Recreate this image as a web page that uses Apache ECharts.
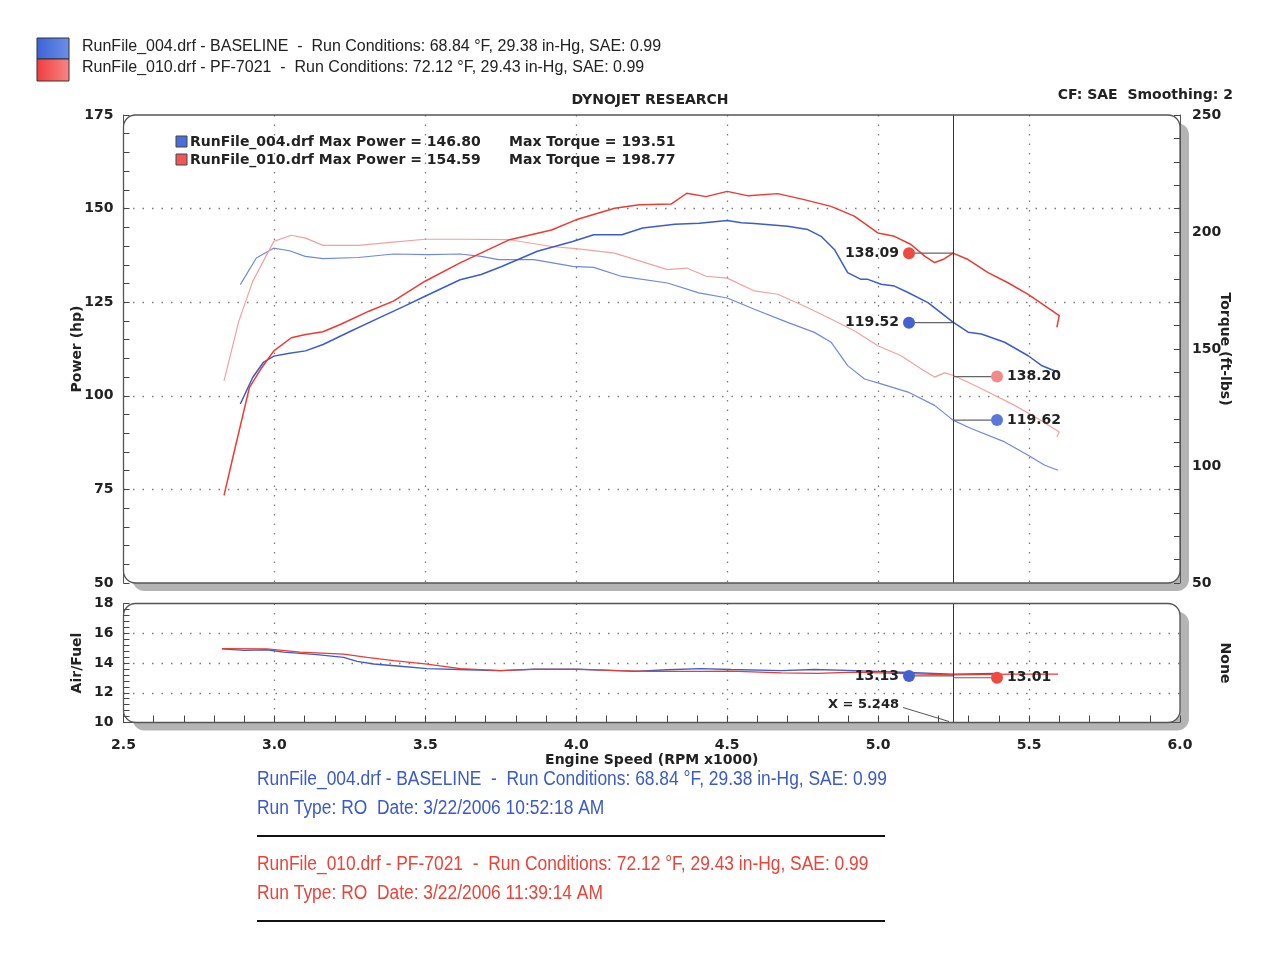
<!DOCTYPE html>
<html>
<head>
<meta charset="utf-8">
<script src="https://cdn.jsdelivr.net/npm/echarts@6/dist/echarts.min.js"></script>
<style>
html,body{margin:0;padding:0;background:#fff;}
#chart{width:1280px;height:959px;}
</style>
</head>
<body>
<div id="chart"></div>
<script>
// ---------------- DATA ----------------
const xTicks = [2.5, 3.0, 3.5, 4.0, 4.5, 5.0, 5.5, 6.0];
const cursorRpm = 5.248;

// [rpm x1000, hp]
const baselinePower = [
 [2.887,97.8],[2.928,104.9],[2.963,108.9],[2.998,110.6],[3.045,111.3],[3.103,112.0],[3.161,113.7],
 [3.254,117.3],[3.336,120.4],[3.429,123.9],[3.499,126.6],[3.615,131.0],[3.685,132.4],[3.755,134.6],
 [3.871,138.6],[3.988,141.2],[4.058,143.0],[4.151,143.0],[4.220,144.8],[4.326,145.8],[4.407,146.1],
 [4.500,146.8],[4.547,146.2],[4.590,146.0],[4.700,145.3],[4.767,144.4],[4.811,142.6],[4.855,139.1],
 [4.899,132.9],[4.943,131.1],[4.966,131.1],[5.010,129.8],[5.054,129.3],[5.099,127.6],[5.165,124.9],
 [5.248,119.7],[5.298,117.0],[5.342,116.5],[5.419,114.3],[5.497,110.7],[5.541,108.1],[5.596,106.3]
];
const pf7021Power = [
 [2.833,73.4],[2.870,86.2],[2.917,102.2],[2.958,107.5],[2.998,112.0],[3.056,115.5],[3.103,116.4],
 [3.161,117.1],[3.220,119.1],[3.313,122.6],[3.394,125.3],[3.499,130.6],[3.615,135.5],[3.779,141.7],
 [3.918,144.3],[3.999,147.0],[4.127,150.1],[4.209,151.0],[4.314,151.2],[4.366,154.1],[4.430,153.2],
 [4.500,154.6],[4.570,153.4],[4.667,154.0],[4.755,152.4],[4.844,150.6],[4.921,148.0],[4.999,143.5],
 [5.054,142.6],[5.109,140.4],[5.154,137.3],[5.187,135.6],[5.215,136.4],[5.248,138.1],[5.298,136.4],
 [5.364,132.9],[5.430,130.2],[5.497,127.1],[5.600,121.4],[5.592,118.3]
];
// [rpm x1000, ft-lbs]
const baselineTorque = [
 [2.887,177.5],[2.940,188.9],[2.997,193.1],[3.050,192.0],[3.102,189.6],[3.161,188.6],[3.278,189.1],
 [3.394,190.6],[3.510,190.3],[3.615,190.6],[3.685,189.6],[3.743,188.2],[3.860,188.2],[3.988,185.3],
 [4.058,184.9],[4.151,181.0],[4.302,178.2],[4.406,174.0],[4.500,171.8],[4.590,167.0],[4.700,161.4],
 [4.789,157.1],[4.844,152.9],[4.899,142.9],[4.955,137.2],[5.010,135.1],[5.099,131.6],[5.187,125.9],
 [5.248,119.6],[5.308,116.0],[5.419,110.3],[5.497,104.6],[5.552,100.3],[5.596,98.2]
];
const pf7021Torque = [
 [2.833,136.4],[2.882,161.9],[2.928,178.9],[2.998,196.0],[3.056,198.6],[3.103,197.4],[3.161,194.3],
 [3.278,194.3],[3.394,195.7],[3.499,196.9],[3.627,196.9],[3.779,196.7],[3.918,193.8],[3.999,192.9],
 [4.127,191.0],[4.302,183.9],[4.366,184.6],[4.430,181.1],[4.500,180.3],[4.590,174.8],[4.667,173.4],
 [4.755,168.4],[4.844,162.8],[4.921,157.8],[4.999,151.4],[5.076,147.1],[5.143,141.5],[5.187,138.0],
 [5.220,139.8],[5.248,138.8],[5.298,135.8],[5.364,131.6],[5.452,125.9],[5.530,120.2],[5.600,114.5],[5.592,112.4]
];
// [rpm x1000, air/fuel]
const baselineAfr = [
 [2.826,14.95],[2.900,14.85],[2.975,14.89],[3.030,14.73],[3.141,14.56],[3.229,14.38],[3.274,14.11],
 [3.329,13.93],[3.417,13.78],[3.506,13.62],[3.639,13.55],[3.749,13.49],[3.860,13.58],[4.004,13.58],
 [4.136,13.49],[4.191,13.44],[4.302,13.55],[4.413,13.62],[4.513,13.56],[4.679,13.49],[4.789,13.56],
 [4.921,13.49],[5.099,13.36],[5.248,13.25],[5.386,13.30]
];
const pf7021Afr = [
 [2.826,14.97],[2.975,14.95],[3.086,14.73],[3.229,14.60],[3.307,14.38],[3.395,14.16],[3.506,13.93],
 [3.616,13.62],[3.749,13.49],[3.860,13.58],[4.004,13.58],[4.136,13.49],[4.247,13.44],[4.413,13.44],
 [4.513,13.46],[4.679,13.33],[4.800,13.30],[4.921,13.38],[5.121,13.27],[5.248,13.20],[5.452,13.25],[5.596,13.25]
];
// cursor readouts at X = 5.248
const powerReadouts = { pf7021: 138.09, baseline: 119.52 };
const torqueReadouts = { pf7021: 138.20, baseline: 119.62 };
const afrReadouts = { baseline: 13.13, pf7021: 13.01 };
const maxPower = { baseline: '146.80', pf7021: '154.59' };
const maxTorque = { baseline: '193.51', pf7021: '198.77' };

// ---------------- STYLE / LAYOUT ----------------
const BLUE = '#3d5ccc', BLUE_T = '#7088de', RED = '#ec3b32', RED_T = '#f4a0a0';
const BOLD = 'bold 14px "DejaVu Sans"';
const G0 = { left: 123.5, top: 115, width: 1056.5, height: 468 };
const G1 = { left: 123.5, top: 603.5, width: 1056.5, height: 119 };
const dotted = { color: '#7a7a7a', width: 1.3, type: [1.5, 8] };
const axisLabelStyle = { fontFamily: 'DejaVu Sans', fontWeight: 'bold', fontSize: 14, color: '#222' };
const nameStyle = { fontFamily: 'DejaVu Sans', fontWeight: 'bold', fontSize: 14, color: '#222' };

function frame(g) {
  return [
    { type: 'rect', z: -10, shape: { x: g.left + 9, y: g.top + 8, width: g.width, height: g.height, r: 12 }, style: { fill: '#b4b4b4' } },
    { type: 'rect', z: -9, shape: { x: g.left, y: g.top, width: g.width, height: g.height, r: 12 }, style: { fill: '#fff' } },
    { type: 'rect', z: 50, shape: { x: g.left, y: g.top, width: g.width, height: g.height, r: 12 }, style: { fill: 'none', stroke: '#555', lineWidth: 1.3 } }
  ];
}

function readout(xi, yi, value, color, side) {
  return {
    type: 'custom', xAxisIndex: xi, yAxisIndex: yi, silent: true, z: 20,
    data: [[cursorRpm, value]],
    renderItem: function (params, api) {
      const p = api.coord([api.value(0), api.value(1)]);
      const mx = p[0] + side * 44;
      return { type: 'group', children: [
        { type: 'line', shape: { x1: p[0], y1: p[1], x2: mx, y2: p[1] }, style: { stroke: '#666', lineWidth: 1.2 } },
        { type: 'circle', shape: { cx: mx, cy: p[1], r: 6 }, style: { fill: color } },
        { type: 'text', x: mx + side * 10, y: p[1], style: { text: value.toFixed(2), fill: '#222', font: 'bold 14px "DejaVu Sans"', align: side < 0 ? 'right' : 'left', verticalAlign: 'middle' } }
      ] };
    }
  };
}

const xLabel = {
  type: 'custom', xAxisIndex: 1, yAxisIndex: 2, silent: true, z: 20,
  data: [[cursorRpm, 10]],
  renderItem: function (params, api) {
    const p = api.coord([api.value(0), api.value(1)]);
    return { type: 'group', children: [
      { type: 'line', shape: { x1: p[0] - 50, y1: p[1] - 15, x2: p[0] - 4, y2: p[1] - 1 }, style: { stroke: '#555', lineWidth: 1 } },
      { type: 'text', x: p[0] - 54, y: p[1] - 18, style: { text: 'X = ' + api.value(0).toFixed(3), fill: '#222', font: 'bold 13px "DejaVu Sans"', align: 'right', verticalAlign: 'middle' } }
    ] };
  }
};

function lineSeries(xi, yi, data, color, width, z) {
  return { type: 'line', xAxisIndex: xi, yAxisIndex: yi, data: data, symbol: 'none', smooth: false, silent: true, z: z || 2,
    lineStyle: { color: color, width: width }, emphasis: { disabled: true } };
}

const cursorLine = { silent: true, symbol: ['none', 'none'], label: { show: false },
  lineStyle: { color: '#333', width: 1, type: 'solid' }, data: [{ xAxis: cursorRpm }], emphasis: { disabled: true } };

const bottomTextBlue1 = 'RunFile_004.drf - BASELINE  -  Run Conditions: 68.84 °F, 29.38 in-Hg, SAE: 0.99';
const bottomTextBlue2 = 'Run Type: RO  Date: 3/22/2006 10:52:18 AM';
const bottomTextRed1 = 'RunFile_010.drf - PF-7021  -  Run Conditions: 72.12 °F, 29.43 in-Hg, SAE: 0.99';
const bottomTextRed2 = 'Run Type: RO  Date: 3/22/2006 11:39:14 AM';

function txt(x, y, text, font, fill, align, sx) {
  return { type: 'text', x: x, y: y, scaleX: sx || 1, z: 30,
    style: { text: text, font: font, fill: fill, align: align || 'left', verticalAlign: 'middle' } };
}

const graphics = [].concat(
  frame(G0), frame(G1),
  [
    { type: 'rect', z: 30, shape: { x: 37, y: 38, width: 32, height: 21 }, style: { fill: new echarts.graphic.LinearGradient(0,0,1,0,[{offset:0,color:'#3b63d8'},{offset:1,color:'#6d8fe8'}]), stroke: '#333', lineWidth: 1 } },
    { type: 'rect', z: 30, shape: { x: 37, y: 59, width: 32, height: 22 }, style: { fill: new echarts.graphic.LinearGradient(0,0,1,0,[{offset:0,color:'#f23c3c'},{offset:1,color:'#f88686'}]), stroke: '#333', lineWidth: 1 } },
    txt(82, 47, 'RunFile_004.drf - BASELINE  -  Run Conditions: 68.84 °F, 29.38 in-Hg, SAE: 0.99', '16px "Liberation Sans"', '#222', 'left', 1.0),
    txt(82, 68, 'RunFile_010.drf - PF-7021  -  Run Conditions: 72.12 °F, 29.43 in-Hg, SAE: 0.99', '16px "Liberation Sans"', '#222', 'left', 1.0),
    txt(650, 100, 'DYNOJET RESEARCH', BOLD, '#222', 'center'),
    txt(1233, 95, 'CF: SAE  Smoothing: 2', BOLD, '#222', 'right'),
    { type: 'rect', z: 30, shape: { x: 176, y: 136, width: 11, height: 11 }, style: { fill: '#4a6fd8', stroke: '#444', lineWidth: 1 } },
    { type: 'rect', z: 30, shape: { x: 176, y: 154, width: 11, height: 11 }, style: { fill: '#f05858', stroke: '#444', lineWidth: 1 } },
    txt(190, 142, 'RunFile_004.drf Max Power = ' + maxPower.baseline, BOLD, '#222'),
    txt(190, 160, 'RunFile_010.drf Max Power = ' + maxPower.pf7021, BOLD, '#222'),
    txt(509, 142, 'Max Torque = ' + maxTorque.baseline, BOLD, '#222'),
    txt(509, 160, 'Max Torque = ' + maxTorque.pf7021, BOLD, '#222'),
    txt(257, 779, bottomTextBlue1, '20px "Liberation Sans"', '#3a5ac8', 'left', 0.87),
    txt(257, 808, bottomTextBlue2, '20px "Liberation Sans"', '#3a5ac8', 'left', 0.87),
    txt(257, 864, bottomTextRed1, '20px "Liberation Sans"', '#e8443a', 'left', 0.87),
    txt(257, 893, bottomTextRed2, '20px "Liberation Sans"', '#e8443a', 'left', 0.87),
    { type: 'line', z: 30, shape: { x1: 257, y1: 836, x2: 885, y2: 836 }, style: { stroke: '#111', lineWidth: 2 } },
    { type: 'line', z: 30, shape: { x1: 257, y1: 921, x2: 885, y2: 921 }, style: { stroke: '#111', lineWidth: 2 } }
  ]
);

const chart = echarts.init(document.getElementById('chart'), null, { renderer: 'canvas' });
chart.setOption({
  animation: false,
  backgroundColor: '#fff',
  tooltip: { show: false },
  grid: [
    Object.assign({ containLabel: false, outerBoundsMode: 'none' }, G0),
    Object.assign({ containLabel: false, outerBoundsMode: 'none' }, G1)
  ],
  xAxis: [
    { type: 'value', gridIndex: 0, min: xTicks[0], max: xTicks[xTicks.length - 1], interval: 0.5,
      axisLine: { show: false }, axisTick: { show: false }, axisLabel: { show: false },
      splitLine: { show: true, showMinLine: false, showMaxLine: false, lineStyle: dotted } },
    { type: 'value', gridIndex: 1, min: xTicks[0], max: xTicks[xTicks.length - 1], interval: 0.5,
      axisLine: { show: true, onZero: false, lineStyle: { color: '#555' } },
      axisTick: { show: true, inside: true, length: 7, lineStyle: { color: '#444' } },
      minorTick: { show: true, splitNumber: 5, length: 7, lineStyle: { color: '#444' } },
      axisLabel: Object.assign({ margin: 16, formatter: v => v.toFixed(1) }, axisLabelStyle),
      splitLine: { show: true, showMinLine: false, showMaxLine: false, lineStyle: dotted },
      name: 'Engine Speed (RPM x1000)', nameLocation: 'middle', nameGap: 31, nameMoveOverlap: false, nameTextStyle: nameStyle }
  ],
  yAxis: [
    { type: 'value', gridIndex: 0, position: 'left', min: 50, max: 175, interval: 25,
      axisLine: { show: true, lineStyle: { color: '#555' } },
      axisTick: { show: true, inside: true, length: 6, lineStyle: { color: '#444' } },
      minorTick: { show: true, splitNumber: 5, length: 6, lineStyle: { color: '#444' } },
      axisLabel: Object.assign({ margin: 10 }, axisLabelStyle),
      splitLine: { show: true, showMinLine: false, showMaxLine: false, lineStyle: dotted },
      name: 'Power (hp)', nameLocation: 'middle', nameGap: 39, nameRotate: 90, nameMoveOverlap: false, nameTextStyle: nameStyle },
    { type: 'value', gridIndex: 0, position: 'right', min: 50, max: 250, interval: 50,
      axisLine: { show: true, lineStyle: { color: '#555' } },
      axisTick: { show: true, inside: true, length: 6, lineStyle: { color: '#444' } },
      minorTick: { show: true, splitNumber: 5, length: 6, lineStyle: { color: '#444' } },
      axisLabel: Object.assign({ margin: 12 }, axisLabelStyle),
      splitLine: { show: false },
      name: 'Torque (ft-lbs)', nameLocation: 'middle', nameGap: 38, nameRotate: -90, nameMoveOverlap: false, nameTextStyle: nameStyle },
    { type: 'value', gridIndex: 1, position: 'left', min: 10, max: 18, interval: 2,
      axisLine: { show: true, lineStyle: { color: '#555' } },
      axisTick: { show: true, inside: true, length: 6, lineStyle: { color: '#444' } },
      minorTick: { show: true, splitNumber: 5, length: 6, lineStyle: { color: '#444' } },
      axisLabel: Object.assign({ margin: 10 }, axisLabelStyle),
      splitLine: { show: true, showMinLine: false, showMaxLine: false, lineStyle: dotted },
      name: 'Air/Fuel', nameLocation: 'middle', nameGap: 39, nameRotate: 90, nameMoveOverlap: false, nameTextStyle: nameStyle },
    { type: 'value', gridIndex: 1, position: 'right', min: 0, max: 1,
      axisLine: { show: false }, axisTick: { show: false }, axisLabel: { show: false }, splitLine: { show: false },
      name: 'None', nameLocation: 'middle', nameGap: 38, nameRotate: -90, nameMoveOverlap: false, nameTextStyle: nameStyle }
  ],
  graphic: { elements: graphics },
  series: [
    lineSeries(0, 1, baselineTorque, BLUE_T, 1.2),
    lineSeries(0, 1, pf7021Torque, RED_T, 1.2),
    Object.assign(lineSeries(0, 0, baselinePower, BLUE, 1.5), { markLine: cursorLine }),
    lineSeries(0, 0, pf7021Power, RED, 1.5, 3),
    Object.assign(lineSeries(1, 2, baselineAfr, BLUE, 1.4), { markLine: cursorLine }),
    lineSeries(1, 2, pf7021Afr, RED, 1.2, 3),
    readout(0, 0, powerReadouts.pf7021, '#ee4a40', -1),
    readout(0, 0, powerReadouts.baseline, '#4560d0', -1),
    readout(0, 1, torqueReadouts.pf7021, '#f38a8a', 1),
    readout(0, 1, torqueReadouts.baseline, '#5a78dc', 1),
    readout(1, 2, afrReadouts.baseline, '#4560d0', -1),
    readout(1, 2, afrReadouts.pf7021, '#ee4a40', 1),
    xLabel
  ]
});
</script>
</body>
</html>
